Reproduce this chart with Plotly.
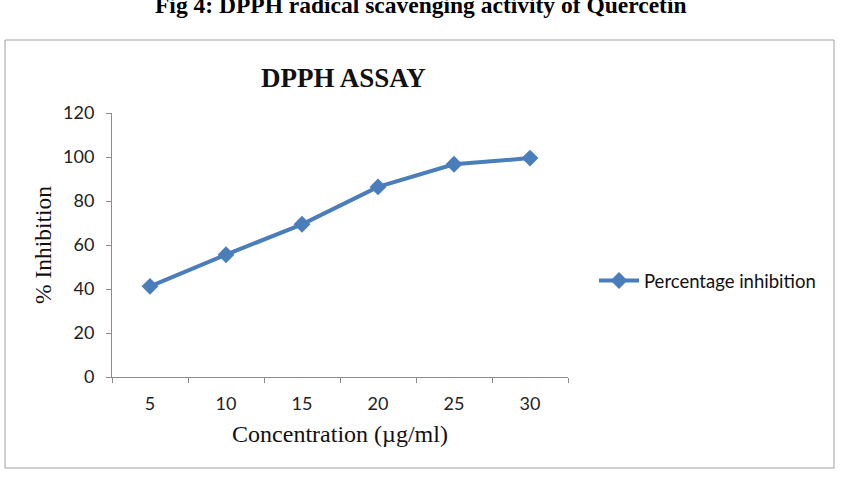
import plotly.graph_objects as go

concentrations = ["5", "10", "15", "20", "25", "30"]
inhibition = [41.2, 55.6, 69.4, 86.4, 96.7, 99.5]
y_ticks = [0, 20, 40, 60, 80, 100, 120]

W, H = 841, 492
L, R, T, B = 112, 273, 113, 115
pw = W - L - R
ph = H - T - B

def px_x(p):
    return (p - L) / pw

def px_y(p):
    return (H - B - p) / ph

fig = go.Figure()
fig.add_trace(go.Scatter(
    x=concentrations, y=inhibition, mode="lines+markers",
    name="Percentage inhibition",
    line=dict(color="#4A7EBB", width=4),
    marker=dict(symbol="diamond", size=13, color="#4A7EBB"),
))

tick_font = dict(family="Lato, Open Sans, sans-serif", size=18, color="#222")
serif = "Liberation Serif, Times New Roman, serif"

fig.update_layout(
    width=W, height=H,
    margin=dict(l=L, r=R, t=T, b=B),
    paper_bgcolor="white", plot_bgcolor="white",
    showlegend=True,
    legend=dict(x=px_x(594), y=px_y(281), xanchor="left", yanchor="middle",
                font=dict(family="Lato, Open Sans, sans-serif", size=18.5, color="#111"),
                bgcolor="rgba(0,0,0,0)", itemwidth=40),
    xaxis=dict(type="category", range=[-0.5, 5.5], showgrid=False,
               showline=True, linecolor="#8c8c8c", linewidth=1,
               ticks="outside", ticklen=5, tickcolor="#8c8c8c", tickson="boundaries",
               tickfont=tick_font, zeroline=False, ticklabelstandoff=10,
               title=dict(text="Concentration (µg/ml)", font=dict(family=serif, size=24, color="#111"), standoff=12)),
    yaxis=dict(range=[0, 120], tickvals=y_ticks, showgrid=False,
               showline=True, linecolor="#8c8c8c", linewidth=1,
               ticks="outside", ticklen=5, tickcolor="#8c8c8c",
               tickfont=tick_font, zeroline=False, ticklabelstandoff=8,
               title=dict(text="% Inhibition", font=dict(family=serif, size=23.5, color="#111"), standoff=4)),
)

fig.add_shape(type="rect", xref="paper", yref="paper",
              x0=px_x(5), x1=px_x(834), y0=px_y(468), y1=px_y(40),
              line=dict(color="#a0a0a0", width=1), fillcolor="rgba(0,0,0,0)", layer="below")

fig.add_annotation(text="<b>DPPH ASSAY</b>", xref="paper", yref="paper",
                   x=px_x(343), y=px_y(78), xanchor="center", yanchor="middle",
                   showarrow=False, font=dict(family=serif, size=27, color="#111"))

fig.add_annotation(text="<b>Fig 4: DPPH radical scavenging activity of Quercetin</b>",
                   xref="paper", yref="paper",
                   x=px_x(421), y=px_y(5), xanchor="center", yanchor="middle",
                   showarrow=False, font=dict(family=serif, size=23.5, color="#000"))

fig.write_html("out.html")
